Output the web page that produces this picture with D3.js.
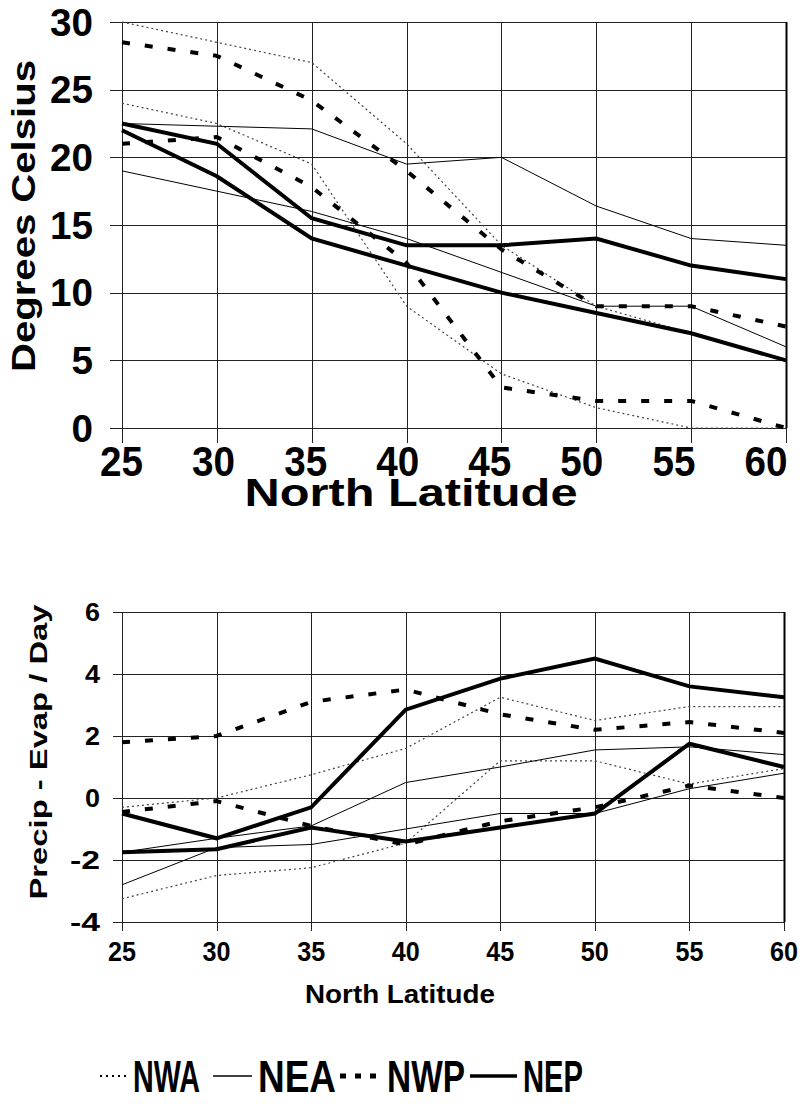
<!DOCTYPE html>
<html>
<head>
<meta charset="utf-8">
<script src="https://cdn.jsdelivr.net/npm/d3@7"></script>
<style>
body { margin: 0; background: #fff; }
text { font-family: "Liberation Sans", Arial, sans-serif; font-weight: bold; fill: #000; }
</style>
</head>
<body>
<svg id="chart" width="808" height="1104"></svg>
<script>
var latitudes = [25, 30, 35, 40, 45, 50, 55, 60];
var tempTicks = [0, 5, 10, 15, 20, 25, 30];
var pmeTicks = [-4, -2, 0, 2, 4, 6];
var regions = ["NWA", "NEA", "NWP", "NEP"];

// upper panel, degrees C - two curves per region
var nwaTempHigh = [30, 28.5, 27, 21, 13.5, 9, 7, 5];
var nwaTempLow  = [24, 22.5, 19.5, 9, 4, 1.5, 0, 0];
var neaTempHigh = [22.5, 22.3, 22.1, 19.5, 20, 16.4, 14, 13.5];
var neaTempLow  = [19, 17.5, 16, 14, 11.5, 9, 9, 6];
var nwpTempHigh = [28.5, 27.5, 24.2, 19, 13.2, 9, 9, 7.5];
var nwpTempLow  = [21, 21.5, 17.8, 12.2, 3, 2, 2, 0];
var nepTempHigh = [22.5, 21, 15.5, 13.5, 13.5, 14, 12, 11];
var nepTempLow  = [22, 18.6, 14, 12, 10, 8.5, 7, 5];

// lower panel, precip - evap per day
var nwaPmeHigh = [-0.3, 0, 0.75, 1.6, 3.25, 2.5, 2.95, 2.95];
var nwaPmeLow  = [-3.25, -2.5, -2.25, -1.45, 1.2, 1.2, 0.45, 0.95];
var neaPmeHigh = [-1.75, -1.3, -0.9, 0.5, 1.0, 1.55, 1.65, 1.4];
var neaPmeLow  = [-2.8, -1.6, -1.5, -1.0, -0.5, -0.5, 0.3, 0.8];
var nwpPmeHigh = [1.8, 2.0, 3.1, 3.5, 2.7, 2.2, 2.45, 2.1];
var nwpPmeLow  = [-0.45, -0.1, -0.9, -1.5, -0.75, -0.3, 0.4, 0];
var nepPmeHigh = [-0.5, -1.3, -0.3, 2.85, 3.85, 4.5, 3.6, 3.25];
var nepPmeLow  = [-1.75, -1.65, -0.95, -1.4, -0.95, -0.5, 1.75, 1.0];

var lineStyle = {
    NWA: { width: 1.2, dash: "2,3", color: "#444" },
    NEA: { width: 1, dash: null, color: "#000" },
    NWP: { width: 4, dash: "8,15", color: "#000" },
    NEP: { width: 4, dash: null, color: "#000" }
};
var legendStyle = {
    NWA: { width: 2, dash: "2,4", color: "#000" },
    NEA: { width: 1.5, dash: null, color: "#000" },
    NWP: { width: 5, dash: "6,9", color: "#000" },
    NEP: { width: 3.5, dash: null, color: "#000" }
};

var svg = d3.select("#chart");

function drawPanel(p) {
    var x = d3.scaleLinear().domain([25, 60]).range([p.left, p.right]);
    var y = d3.scaleLinear().domain(p.yDomain).range([p.bottom, p.top]);
    // tick labels of the upper panel sit slightly squeezed to the left
    var xLab = d3.scaleLinear().domain([25, 60]).range(p.xLabelRange || [p.left, p.right]);
    var g = svg.append("g");

    // grid
    g.append("g").selectAll("line").data(p.yTicks).enter().append("line")
        .attr("x1", p.left - p.tickLen).attr("x2", p.right)
        .attr("y1", function(d) { return Math.round(y(d)) + 0.5; })
        .attr("y2", function(d) { return Math.round(y(d)) + 0.5; })
        .attr("stroke", "#222").attr("stroke-width", 1);
    g.append("g").selectAll("line").data(latitudes).enter().append("line")
        .attr("x1", function(d) { return Math.round(x(d)) + 0.5; })
        .attr("x2", function(d) { return Math.round(x(d)) + 0.5; })
        .attr("y1", p.top).attr("y2", p.bottom + p.tickLenX)
        .attr("stroke", "#222").attr("stroke-width", 1);
    g.append("line")
        .attr("x1", p.right + 0.5).attr("x2", p.right + 0.5)
        .attr("y1", p.top).attr("y2", p.bottom)
        .attr("stroke", "#000").attr("stroke-width", 2);

    // series
    var line = d3.line()
        .x(function(d, i) { return x(latitudes[i]); })
        .y(function(d) { return y(d); });
    p.series.forEach(function(s) {
        var st = lineStyle[s.region];
        g.append("path")
            .attr("d", line(s.values))
            .attr("fill", "none")
            .attr("stroke", st.color)
            .attr("stroke-width", st.width)
            .attr("stroke-dasharray", st.dash)
            .attr("stroke-linejoin", "miter");
    });

    // tick labels
    g.append("g").selectAll("text").data(p.yTicks).enter().append("text")
        .attr("x", p.yLabelX).attr("y", function(d) { return y(d); })
        .attr("dy", "0.36em")
        .attr("text-anchor", "end")
        .attr("textLength", function(d) { return String(d).length * p.yCharW; })
        .attr("lengthAdjust", "spacingAndGlyphs")
        .style("font-size", p.yLabelSize + "px")
        .text(function(d) { return d; });
    g.append("g").selectAll("text").data(latitudes).enter().append("text")
        .attr("x", function(d) { return xLab(d); }).attr("y", p.xLabelY)
        .attr("text-anchor", "middle")
        .attr("textLength", p.xLabelW).attr("lengthAdjust", "spacingAndGlyphs")
        .style("font-size", p.xLabelSize + "px")
        .text(function(d) { return d; });

    // axis titles
    g.append("text")
        .attr("transform", "translate(" + p.yTitleX + "," + p.yTitleY + ") rotate(-90)")
        .attr("text-anchor", "middle")
        .attr("textLength", p.yTitleLen).attr("lengthAdjust", "spacingAndGlyphs")
        .style("font-size", p.yTitleSize + "px")
        .text(p.yTitle);
    g.append("text")
        .attr("x", p.xTitleX).attr("y", p.xTitleY)
        .attr("text-anchor", "middle")
        .attr("textLength", p.xTitleLen).attr("lengthAdjust", "spacingAndGlyphs")
        .style("font-size", p.xTitleSize + "px")
        .text("North Latitude");
}

drawPanel({
    left: 122, right: 786, top: 22, bottom: 428,
    yDomain: [0, 30], yTicks: tempTicks, tickLen: 12, tickLenX: 15,
    yLabelX: 93, yLabelSize: 38, yCharW: 21.5,
    xLabelY: 476, xLabelSize: 42, xLabelW: 43, xLabelRange: [121.5, 766],
    yTitle: "Degrees Celsius", yTitleX: 35, yTitleY: 216, yTitleSize: 33, yTitleLen: 312,
    xTitleX: 411, xTitleY: 506, xTitleSize: 39, xTitleLen: 333,
    series: [
        { region: "NWA", values: nwaTempHigh }, { region: "NWA", values: nwaTempLow },
        { region: "NEA", values: neaTempHigh }, { region: "NEA", values: neaTempLow },
        { region: "NWP", values: nwpTempHigh }, { region: "NWP", values: nwpTempLow },
        { region: "NEP", values: nepTempHigh }, { region: "NEP", values: nepTempLow }
    ]
});

drawPanel({
    left: 122, right: 784, top: 612, bottom: 922,
    yDomain: [-4, 6], yTicks: pmeTicks, tickLen: 9, tickLenX: 9,
    yLabelX: 100, yLabelSize: 26, yCharW: 15,
    xLabelY: 961, xLabelSize: 27, xLabelW: 28,
    yTitle: "Precip - Evap / Day", yTitleX: 47, yTitleY: 752, yTitleSize: 24, yTitleLen: 295,
    xTitleX: 400, xTitleY: 1003, xTitleSize: 26, xTitleLen: 190,
    series: [
        { region: "NWA", values: nwaPmeHigh }, { region: "NWA", values: nwaPmeLow },
        { region: "NEA", values: neaPmeHigh }, { region: "NEA", values: neaPmeLow },
        { region: "NWP", values: nwpPmeHigh }, { region: "NWP", values: nwpPmeLow },
        { region: "NEP", values: nepPmeHigh }, { region: "NEP", values: nepPmeLow }
    ]
});

// legend: [line start, line end, text start, text width]
var legendX = { NWA: [100, 127, 133, 67], NEA: [213, 252, 258, 78], NWP: [340, 383, 387, 78], NEP: [470, 517, 523, 60] };
var legend = svg.append("g");
regions.forEach(function(r) {
    var st = legendStyle[r];
    legend.append("line")
        .attr("x1", legendX[r][0]).attr("x2", legendX[r][1])
        .attr("y1", 1076).attr("y2", 1076)
        .attr("stroke", st.color).attr("stroke-width", st.width)
        .attr("stroke-dasharray", st.dash);
    legend.append("text")
        .attr("x", legendX[r][2]).attr("y", 1092)
        .attr("textLength", legendX[r][3]).attr("lengthAdjust", "spacingAndGlyphs")
        .style("font-size", "44px")
        .text(r);
});
</script>
</body>
</html>
